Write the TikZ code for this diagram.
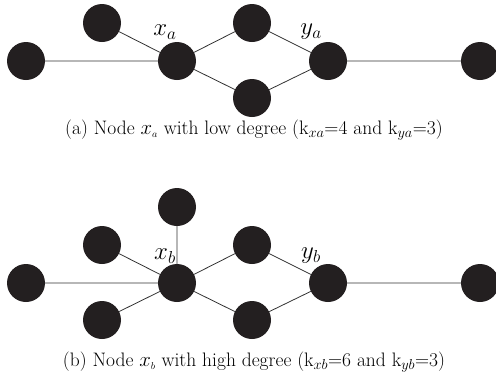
\documentclass[tikz,border=0pt]{standalone}
\usetikzlibrary{backgrounds}
\definecolor{dotc}{RGB}{35,31,32}
\begin{document}
\begin{tikzpicture}[x=1pt,y=-1pt,
  dot/.style={circle,fill=dotc,inner sep=0pt,minimum size=38pt},
  edge/.style={draw=black!80,line width=0.8pt},
  lbl/.style={font=\fontsize{23}{24}\selectfont},
  captxt/.style={font=\fontsize{19.5}{21}\selectfont}]
\useasboundingbox (0,0) rectangle (496,376);
% panel a
\node[dot] (a1) at (26,61) {};
\node[dot] (ax) at (177,61) {};
\node[dot] (aul) at (102,23) {};
\node[dot] (atm) at (252,23) {};
\node[dot] (abm) at (252,98) {};
\node[dot] (ay) at (328,61) {};
\node[dot] (ar) at (480,61) {};
\node[lbl] (axl) at (165,32) {$x_a$};
\node[lbl] (ayl) at (311,32) {$y_a$};
\node[captxt] (capa) at (254,130) {(a) Node $x_{\scriptscriptstyle a}$ with low degree (k$_{xa}$=4 and k$_{ya}$=3)};
% panel b
\node[dot] (b1) at (26,283) {};
\node[dot] (bx) at (177,283) {};
\node[dot] (bt) at (177,207) {};
\node[dot] (bul) at (102,245) {};
\node[dot] (bll) at (102,320) {};
\node[dot] (btm) at (252,245) {};
\node[dot] (bbm) at (252,320) {};
\node[dot] (by) at (328,283) {};
\node[dot] (br) at (480,283) {};
\node[lbl] (bxl) at (165,256) {$x_b$};
\node[lbl] (byl) at (311,256) {$y_b$};
\node[captxt] (capb) at (254,362) {(b) Node $x_{\scriptscriptstyle b}$ with high degree (k$_{xb}$=6 and k$_{yb}$=3)};
% edges
\begin{scope}[on background layer]
\path[edge] (a1) -- (ax) (aul) -- (ax) (ax) -- (atm) (ax) -- (abm) (atm) -- (ay) (abm) -- (ay) (ay) -- (ar);
\path[edge] (b1) -- (bx) (bul) -- (bx) (bt) -- (bx) (bll) -- (bx) (bx) -- (btm) (bx) -- (bbm) (btm) -- (by) (bbm) -- (by) (by) -- (br);
\end{scope}
\end{tikzpicture}
\end{document}
